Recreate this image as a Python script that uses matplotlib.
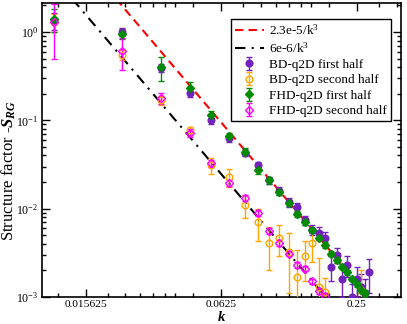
import matplotlib
matplotlib.use("Agg")
import matplotlib.pyplot as plt
from matplotlib.ticker import FixedLocator, NullFormatter, FixedFormatter, LogLocator

plt.rcParams['font.family'] = ['Liberation Serif', 'DejaVu Serif']
plt.rcParams['mathtext.fontset'] = 'custom'
plt.rcParams['mathtext.rm'] = 'Liberation Serif'
plt.rcParams['mathtext.it'] = 'Liberation Serif:italic'
plt.rcParams['mathtext.bf'] = 'Liberation Serif:bold'
plt.rcParams['mathtext.bfit'] = 'Liberation Serif:bold:italic'

# ---- data ----
k = [0.0113, 0.0226, 0.0339, 0.0452, 0.0565, 0.0679, 0.0792, 0.0905, 0.1018, 0.1131,
     0.1244, 0.1357, 0.1470, 0.1583, 0.1696, 0.1810, 0.1923, 0.2036, 0.2149, 0.2262,
     0.2375, 0.2488, 0.2601, 0.2714, 0.2827]

bd_first = [1.35, 1.0, 0.39, 0.205, 0.101, 0.063, 0.043, 0.031, 0.021, 0.0158,
            0.0118, 0.0104, 0.0074, 0.0058, 0.0053, 0.0046, 0.0022, 0.0030, 0.0016, 0.0023,
            0.0010, 0.0016, 0.0013, 0.0011, 0.0019]
bd_first_err = [0.3, 0.1, 0.04, 0.02, 0.01, 0.006, 0.004, 0.003, 0.002, 0.0016,
                0.0013, 0.0012, 0.0009, 0.0008, 0.0009, 0.0009, 0.0007, 0.0006, 0.0006, 0.0006,
                0.0004, 0.0006, 0.0005, 0.0005, 0.0008]

fhd_first = [1.4, 0.95, 0.40, 0.235, 0.115, 0.066, 0.044, 0.0275, 0.021, 0.0154,
             0.0116, 0.0087, 0.0071, 0.0057, 0.0047, 0.0039, 0.0031, 0.0026, 0.0022, 0.0019,
             0.0016, 0.0014, 0.0012, 0.0011]
fhd_first_err = [0.4, 0.12, 0.12, 0.035, 0.012, 0.006, 0.004, 0.0025, 0.0018, 0.0012,
                 0.0009, 0.0007, 0.0005, 0.0004, 0.0003, 0.0003, 0.0002, 0.0002, 0.00015, 0.00013,
                 0.0001, 0.0001, 0.0001, 0.0001]

k_bd_second = [0.0113, 0.0226, 0.0339, 0.0452, 0.0565, 0.0679, 0.0792, 0.0905, 0.1018, 0.1131,
               0.1244, 0.1357, 0.1470, 0.1583, 0.1696, 0.1810, 0.2601]
bd_second = [1.3, 0.55, 0.17, 0.077, 0.031, 0.0228, 0.011, 0.0071, 0.0041, 0.0047,
             0.0032, 0.0017, 0.0029, 0.0041, 0.0013, 0.00114, 0.0012]
bd_second_err = [0.3, 0.07, 0.02, 0.008, 0.006, 0.005, 0.0032, 0.0028, 0.0021, 0.0018,
                 0.0021, 0.0017, 0.0014, 0.0016, 0.0015, 0.0005, 0.0008]

fhd_second = [1.3, 0.61, 0.178, 0.072, 0.0328, 0.0195, 0.0132, 0.0089, 0.0056, 0.0041,
              0.0031, 0.0023, 0.0021, 0.0015, 0.00117, 0.00102]
fhd_second_err = [0.8, 0.24, 0.025, 0.008, 0.003, 0.0015, 0.001, 0.0007, 0.0004, 0.0003,
                  0.00022, 0.00017, 0.00015, 0.00011, 0.00009, 0.00008]

fit_k = [0.005, 0.5]
fit_a_coef = 2.3e-5
fit_b_coef = 6e-6

x_major = [0.015625, 0.0625, 0.25]
x_major_labels = ['0.015625', '0.0625', '0.25']
x_minor_factors = [1.25, 1.5, 1.75, 2, 2.25, 2.5, 3]

# ---- figure ----
fig = plt.figure(figsize=(4.07, 3.24), dpi=100)
ax = fig.add_axes([42/407, 27/324, 359/407, 294/324])
ax.set_xscale('log')
ax.set_yscale('log')

ax.plot(fit_k, [fit_a_coef / x**3 for x in fit_k], color='#ff0000', ls=(0, (4, 2.5)), lw=1.5,
        label='2.3e-5/k$^3$', zorder=2)
ax.plot(fit_k, [fit_b_coef / x**3 for x in fit_k], color='black', ls=(0, (5, 3, 1, 3)), lw=1.5,
        label='6e-6/k$^3$', zorder=2)

purple = '#7221bc'
orange = '#ffa500'
green = '#008b00'
magenta = '#ff00ff'
common = dict(capsize=2.5, elinewidth=1, capthick=1, ls='none', zorder=3)
ax.errorbar(k[:len(bd_first)], bd_first, yerr=bd_first_err, color=purple, marker='o', ms=4.8,
            mfc=purple, mec=purple, label='BD-q2D first half', **common)
ax.errorbar(k_bd_second, bd_second, yerr=bd_second_err, color=orange, marker='o', ms=4.8,
            mfc='none', mec=orange, mew=1, label='BD-q2D second half', **common)
ax.errorbar(k[:len(fhd_first)], fhd_first, yerr=fhd_first_err, color=green, marker='D', ms=4.2,
            mfc=green, mec=green, label='FHD-q2D first half', **common)
ax.errorbar(k[:len(fhd_second)], fhd_second, yerr=fhd_second_err, color=magenta, marker='D', ms=4.2,
            mfc='none', mec=magenta, mew=1, label='FHD-q2D second half', **common)

ax.set_xlim(0.01, 0.392)
ax.set_ylim(1e-3, 2.13)

ax.xaxis.set_major_locator(FixedLocator(x_major))
ax.xaxis.set_major_formatter(FixedFormatter(x_major_labels))
minors = [m * f for m in [0.00390625] + x_major for f in x_minor_factors]
ax.xaxis.set_minor_locator(FixedLocator(minors))
ax.xaxis.set_minor_formatter(NullFormatter())
ax.yaxis.set_major_locator(LogLocator(base=10, numticks=10))
ax.yaxis.set_minor_locator(LogLocator(base=10, subs=range(2, 10), numticks=10))
ax.yaxis.set_minor_formatter(NullFormatter())

ax.tick_params(which='both', direction='in', top=True, right=True)
ax.tick_params(which='major', length=6, width=1)
ax.tick_params(which='minor', length=3, width=1)
ax.tick_params(axis='x', which='major', labelsize=8.2, pad=2.0)
ax.tick_params(axis='y', which='major', labelsize=8.5, pad=2.5)
for s in ax.spines.values():
    s.set_linewidth(1.2)

ax.set_xlabel(r'$\mathbfit{k}$', fontsize=10.5)
ax.xaxis.label.set_va('bottom')
ax.xaxis.set_label_coords(0.5, -0.0915)
ax.set_ylabel(r'Structure factor -$\mathbfit{S}_{\mathbfit{RG}}$', fontsize=12)
ax.yaxis.set_label_coords(-0.066, 0.43)

leg = ax.legend(loc='upper right', bbox_to_anchor=(0.972, 0.946), borderaxespad=0,
                fancybox=False, edgecolor='black', framealpha=1, fontsize=9.5,
                handlelength=2.2, labelspacing=0.25, borderpad=0.3, handletextpad=0.4,
                numpoints=1)
leg.get_frame().set_linewidth(1.0)

fig.savefig('out.png', dpi=100)
